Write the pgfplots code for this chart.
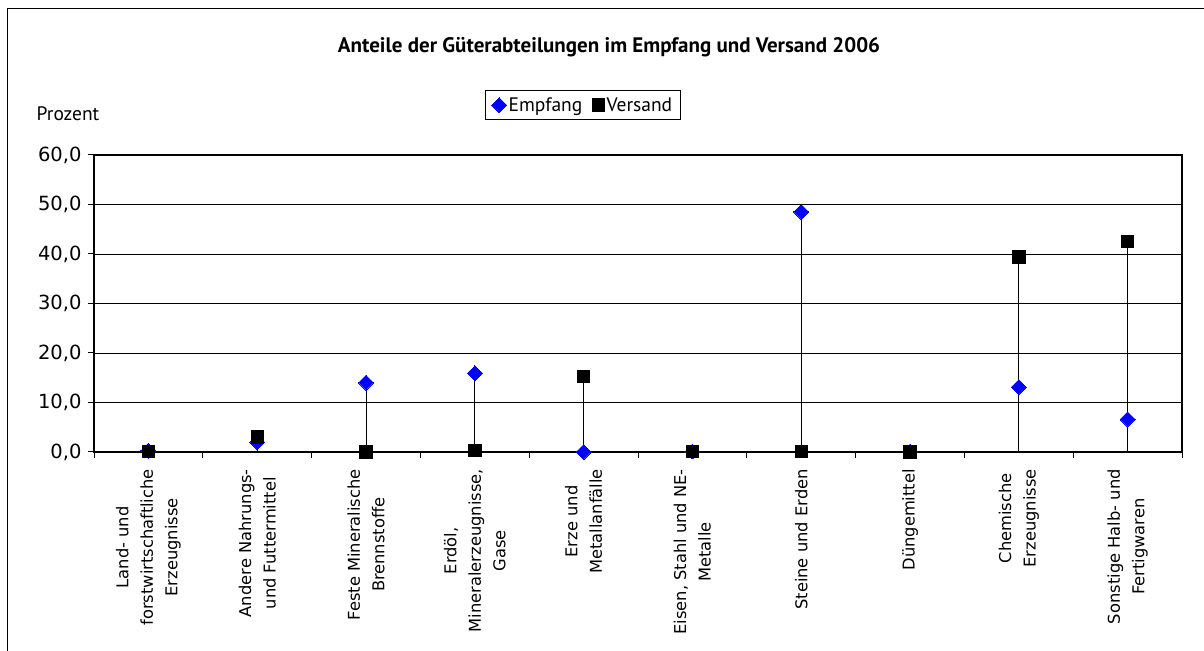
\documentclass[border=0pt]{standalone}
\usepackage{pgfplots}
\pgfplotsset{compat=1.18}
\usepackage{fontspec}
\setmainfont{DejaVu Sans}
\newfontfamily\titlefont{PT Sans}
\pgfplotstableread{
x emp ver
0 0.3 0.1
1 2.0 3.0
2 14.0 0.0
3 15.9 0.3
4 0.0 15.2
5 0.1 0.1
6 48.5 0.1
7 0.1 0.0
8 13.1 39.4
9 6.6 42.5
}\datatab
\begin{document}
\begin{tikzpicture}[x=1bp,y=1bp]
\useasboundingbox (0,0) rectangle (1204,651);
\draw[line width=1.2bp] (7.5,0) -- (7.5,642.5) -- (1204,642.5);
\begin{axis}[
  at={(94bp,199bp)}, anchor=south west, scale only axis,
  width=1088bp, height=297bp,
  xmin=-0.5, xmax=9.5, ymin=0, ymax=60,
  ytick={0,10,...,60},
  xtick={0,...,9},
  minor xtick={-0.5,0.5,...,9.5},
  xticklabels={{Land- und\\forstwirtschaftliche\\Erzeugnisse},
    {Andere Nahrungs-\\und Futtermittel},
    {Feste Mineralische\\Brennstoffe},
    {Erdöl,\\Mineralerzeugnisse,\\Gase},
    {Erze und\\Metallanfälle},
    {Eisen, Stahl und NE-\\Metalle},
    {Steine und Erden},
    {Düngemittel},
    {Chemische\\Erzeugnisse},
    {Sonstige Halb- und\\Fertigwaren}},
  xticklabel style={rotate=90, anchor=east, align=center,
    font=\fontsize{16.3bp}{24.5bp}\selectfont, inner sep=0pt},
  yticklabel style={font=\fontsize{19.5bp}{22bp}\selectfont, xshift=-3bp},
  /pgf/number format/.cd, fixed, fixed zerofill, precision=1, use comma, assume math mode=true,
  /pgfplots/.cd,
  tick pos=left,
  tick align=outside,
  major x tick style={draw=none},
  minor tick length=6bp,
  major tick length=6bp,
  tick style={black, line width=1bp},
  ymajorgrids,
  major grid style={black, line width=0.8bp},
  axis line style={line width=1.5bp},
  xticklabel shift=11bp,
  legend style={at={(0.4494,1.168)}, anchor=center, draw=black, line width=0.8bp,
    legend columns=2, font=\titlefont\fontsize{19.5bp}{22bp}\selectfont,
    inner xsep=6bp, inner ysep=5bp, /tikz/every even column/.append style={column sep=8bp}},
  legend cell align=left,
]
\addplot[ycomb, black, line width=0.8bp, forget plot] table[x=x, y=emp] {\datatab};
\addplot[ycomb, black, line width=0.8bp, forget plot] table[x=x, y=ver] {\datatab};
\addplot[only marks, mark=square*, mark size=5.3bp, mark options={rotate=45, fill=blue, draw=blue, line width=0pt}] table[x=x, y=emp] {\datatab};
\addplot[only marks, mark=square*, mark size=6.2bp, mark options={fill=black, draw=black, line width=0pt}] table[x=x, y=ver] {\datatab};
\legend{Empfang, Versand}
\end{axis}
\node[font=\titlefont\bfseries\fontsize{21bp}{24bp}\selectfont] at (609,604) {Anteile der Güterabteilungen im Empfang und Versand 2006};
\node[font=\titlefont\fontsize{19.5bp}{24bp}\selectfont] at (68,537) {Prozent};
\end{tikzpicture}
\end{document}
